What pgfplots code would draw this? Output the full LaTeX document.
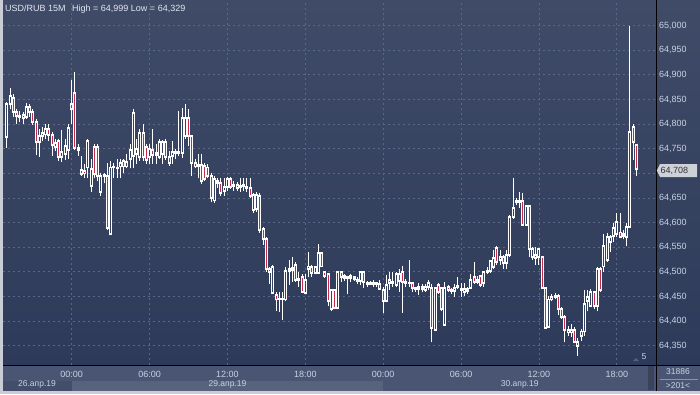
\documentclass[border=0pt]{standalone}
\usepackage{pgfplots}
\pgfplotsset{compat=1.18}
\usepackage{pgfplotstable}
\usepackage{fontspec}
\setmainfont{Liberation Sans}
\definecolor{frame}{HTML}{C8CDD6}
\definecolor{bgtop}{HTML}{3F4B67}
\definecolor{bgbot}{HTML}{2D3A59}
\definecolor{gridc}{HTML}{5A6787}
\definecolor{candred}{HTML}{C42B4A}
\definecolor{hollow}{HTML}{35425F}
\definecolor{labc}{HTML}{C8D2E4}
\definecolor{titlec}{HTML}{E2E7F0}
\definecolor{rowA}{HTML}{4A5573}
\definecolor{rowB}{HTML}{57627D}
\definecolor{rowC}{HTML}{424E6A}
\definecolor{markc}{HTML}{CDD1D8}
\definecolor{scrollc}{HTML}{3A4359}
\definecolor{sepc}{HTML}{8C95A8}
\definecolor{tric}{HTML}{56617C}

\pgfplotstableread{
i o h l c
-20 64773 64845 64752 64840
-19 64840 64874 64830 64858
-18 64854 64862 64815 64825
-17 64825 64830 64800 64817
-16 64817 64826 64805 64815
-15 64812 64824 64800 64819
-14 64815 64842 64810 64835
-13 64835 64840 64815 64825
-12 64825 64830 64798 64805
-11 64805 64810 64738 64763
-10 64763 64790 64734 64775
-9 64775 64795 64765 64783
-8 64779 64800 64770 64790
-7 64790 64800 64765 64778
-6 64778 64785 64735 64758
-5 64753 64770 64745 64762
-4 64765 64770 64725 64734
-3 64734 64789 64724 64744
-2 64740 64770 64728 64755
-1 64748 64800 64730 64793
0 64840 64890 64800 64830
1 64864 64905 64748 64752
2 64752 64760 64736 64748
3 64706 64735 64695 64698
4 64705 64720 64690 64700
5 64712 64770 64690 64765
6 64675 64730 64663 64708
7 64754 64760 64690 64698
8 64754 64760 64685 64694
9 64663 64700 64655 64694
10 64694 64700 64680 64696
11 64694 64722 64585 64590
12 64576 64725 64574 64712
13 64712 64722 64690 64714
14 64712 64730 64690 64710
15 64714 64730 64690 64722
16 64725 64730 64700 64714
17 64714 64740 64710 64724
18 64730 64760 64710 64748
19 64735 64830 64710 64822
20 64740 64770 64720 64750
21 64733 64790 64725 64783
22 64783 64800 64725 64733
23 64754 64760 64720 64728
24 64733 64760 64720 64750
25 64748 64790 64720 64738
26 64742 64760 64720 64738
27 64734 64770 64730 64763
28 64740 64768 64720 64763
29 64763 64770 64728 64734
30 64734 64745 64715 64722
31 64735 64765 64720 64744
32 64744 64750 64730 64742
33 64742 64826 64735 64744
34 64742 64832 64732 64813
35 64775 64840 64770 64813
36 64813 64830 64755 64775
37 64775 64778 64694 64722
38 64722 64730 64710 64714
39 64718 64740 64690 64714
40 64718 64740 64678 64684
41 64716 64722 64685 64688
42 64712 64720 64690 64694
43 64694 64700 64641 64651
44 64645 64695 64640 64688
45 64684 64690 64670 64681
46 64681 64690 64655 64661
47 64665 64690 64655 64673
48 64673 64692 64665 64688
49 64688 64692 64668 64673
50 64675 64685 64665 64677
51 64677 64682 64665 64671
52 64675 64690 64663 64673
53 64677 64690 64665 64675
54 64673 64690 64663 64671
55 64671 64690 64651 64655
56 64625 64660 64620 64657
57 64627 64662 64622 64657
58 64655 64660 64580 64586
59 64588 64592 64555 64566
60 64566 64570 64500 64505
61 64505 64510 64475 64500
62 64458 64515 64455 64509
63 64454 64460 64420 64444
64 64446 64460 64419 64444
65 64444 64460 64403 64446
66 64444 64510 64440 64501
67 64501 64525 64474 64505
68 64503 64530 64480 64507
69 64515 64520 64480 64484
70 64484 64500 64470 64486
71 64489 64495 64458 64460
72 64458 64495 64455 64484
73 64505 64541 64490 64511
74 64509 64515 64490 64498
75 64498 64513 64495 64509
76 64498 64556 64495 64539
77 64539 64541 64509 64511
78 64499 64502 64488 64491
79 64495 64497 64430 64440
80 64425 64464 64420 64464
81 64464 64466 64424 64426
82 64426 64500 64424 64499
83 64499 64501 64480 64489
84 64491 64495 64482 64487
85 64487 64492 64455 64489
86 64491 64495 64480 64487
87 64485 64491 64482 64489
88 64484 64489 64476 64482
89 64482 64502 64474 64499
90 64499 64502 64468 64480
91 64478 64482 64470 64476
92 64476 64482 64474 64478
93 64476 64484 64470 64478
94 64478 64480 64470 64476
95 64476 64484 64464 64466
96 64464 64470 64417 64440
97 64440 64494 64438 64474
98 64484 64500 64464 64478
99 64480 64500 64470 64478
100 64474 64500 64470 64495
101 64495 64505 64460 64482
102 64499 64511 64417 64480
103 64480 64485 64470 64478
104 64478 64525 64470 64478
105 64478 64480 64460 64468
106 64468 64470 64460 64466
107 64466 64478 64454 64470
108 64470 64475 64460 64466
109 64464 64475 64460 64470
110 64470 64484 64464 64478
111 64468 64476 64357 64387
112 64383 64470 64380 64468
113 64474 64478 64455 64460
114 64468 64470 64420 64424
115 64393 64480 64390 64468
116 64470 64474 64460 64464
117 64464 64468 64455 64462
118 64462 64476 64450 64468
119 64470 64490 64465 64472
120 64464 64478 64450 64466
121 64460 64478 64452 64466
122 64466 64470 64455 64462
123 64468 64495 64466 64484
124 64489 64520 64475 64480
125 64480 64492 64475 64484
126 64491 64494 64470 64474
127 64478 64501 64470 64499
128 64499 64510 64495 64501
129 64501 64525 64498 64523
130 64509 64545 64505 64529
131 64548 64552 64515 64521
132 64525 64545 64515 64531
133 64531 64535 64505 64519
134 64519 64545 64505 64535
135 64535 64616 64530 64612
136 64612 64690 64608 64630
137 64645 64650 64635 64641
138 64641 64662 64630 64645
139 64643 64660 64595 64596
140 64596 64636 64594 64633
141 64633 64636 64531 64546
142 64531 64550 64525 64546
143 64535 64550 64515 64529
144 64531 64547 64515 64546
145 64531 64532 64466 64468
146 64468 64470 64384 64387
147 64389 64452 64389 64444
148 64444 64456 64440 64450
149 64450 64458 64445 64452
150 64452 64456 64412 64424
151 64424 64428 64405 64409
152 64409 64412 64357 64383
153 64383 64390 64370 64377
154 64377 64395 64368 64383
155 64383 64388 64356 64357
156 64357 64365 64329 64349
157 64369 64385 64360 64379
158 64379 64464 64370 64434
159 64440 64464 64420 64450
160 64430 64465 64428 64460
161 64460 64462 64425 64430
162 64430 64510 64420 64505
163 64505 64510 64460 64464
164 64511 64576 64500 64552
165 64525 64580 64520 64570
166 64560 64575 64540 64570
167 64572 64600 64560 64590
168 64576 64620 64570 64602
169 64580 64620 64570 64570
170 64572 64585 64566 64576
171 64570 64600 64552 64592
172 64592 64999 64590 64785
173 64795 64801 64728 64763
174 64758 64760 64694 64708
}\candles

\begin{document}
\begin{tikzpicture}[x=1pt,y=1pt]
\useasboundingbox (0,0) rectangle (700,394);
% frame and backgrounds
\fill[frame] (0,0) rectangle (700,394);
\shade[top color=bgtop, bottom color=bgbot] (3,29) rectangle (700,393);
\fill[rowA] (3,3) rectangle (700,29);
\fill[rowC] (3,3) rectangle (71.7,13);
\fill[rowB] (71.7,3) rectangle (383.3,13);
\fill[scrollc] (648,4) rectangle (654,28);

\begin{axis}[
  at={(3pt,29pt)}, anchor=south west,
  scale only axis, width=653pt, height=364pt,
  xmin=-21.17, xmax=180.06, ymin=64311, ymax=65050,
  scaled y ticks=false, scaled x ticks=false,
  axis line style={draw=none},
  major tick length=0pt,
  xtick={0,24,48,72,96,120,144,168},
  xticklabels={00:00,06:00,12:00,18:00,00:00,06:00,12:00,18:00},
  ytick={64350,64400,64450,64500,64550,64600,64650,64700,64750,64800,64850,64900,64950,65000},
  yticklabels={{64,350},{64,400},{64,450},{64,500},{64,550},{64,600},{64,650},{},{64,750},{64,800},{64,850},{64,900},{64,950},{65,000}},
  yticklabel pos=right,
  tick label style={font=\fontsize{9}{10}\selectfont, text=labc},
  yticklabel style={anchor=west, inner sep=0pt, xshift=3pt},
  xticklabel style={anchor=center, inner sep=0pt, yshift=-9pt},
  grid=major,
  major grid style={draw=gridc, line width=0.9pt, dash pattern=on 2pt off 3pt},
  clip=true,
]
% wicks
\addplot[draw=none, mark=none, forget plot,
  error bars/.cd, y dir=plus, y explicit, error mark=none,
  error bar style={draw=white, solid, line width=1pt}]
  table[x=i, y=l, y error plus expr={\thisrow{h}-\thisrow{l}}] {\candles};
% body outline
\addplot[draw=none, mark=none, forget plot,
  error bars/.cd, y dir=plus, y explicit, error mark=none,
  error bar style={draw=white, solid, line width=3pt}]
  table[x=i, y expr={min(\thisrow{o},\thisrow{c})-2}, y error plus expr={abs(\thisrow{c}-\thisrow{o})+4}] {\candles};
% bearish fill
\addplot[draw=none, mark=none, forget plot,
  error bars/.cd, y dir=plus, y explicit, error mark=none,
  error bar style={draw=candred, solid, line width=1pt}]
  table[x=i, y expr={\thisrow{c}+2}, y error plus expr={max(\thisrow{o}-\thisrow{c}-4,0)}] {\candles};
% bullish hollow
\addplot[draw=none, mark=none, forget plot,
  error bars/.cd, y dir=plus, y explicit, error mark=none,
  error bar style={draw=hollow, solid, line width=1pt}]
  table[x=i, y expr={\thisrow{o}+2}, y error plus expr={max(\thisrow{c}-\thisrow{o}-4,0)}] {\candles};
\end{axis}

% separators
\draw[black, line width=1pt] (3,29) -- (700,29);
\draw[black, line width=1pt] (656.5,3) -- (656.5,394);
\draw[sepc, line width=0.8pt] (660,15) -- (698,15);

% title
\node[anchor=west, inner sep=0pt, text=titlec, font=\fontsize{9}{10}\selectfont] at (5,385)
  {USD/RUB 15M\hspace{4pt} High = 64,999 Low = 64,329};

% dates
\begin{scope}[every node/.style={inner sep=0pt, text=labc, font=\fontsize{8.5}{10}\selectfont}]
\node at (37,10) {26.апр.19};
\node at (227.5,10) {29.апр.19};
\node at (519.7,10) {30.апр.19};
\node at (678,22) {31886};
\node at (678,8.5) {>201<};
\node at (644,37) {5};
\end{scope}
\fill[tric] (633,33) -- (639,33) -- (636,36) -- cycle;

% current price marker
\fill[markc] (656.8,223.5) -- (660,230) -- (697,230) -- (697,217) -- (660,217) -- cycle;
\node[anchor=west, inner sep=0pt, text=black!80, font=\fontsize{9}{10}\selectfont] at (660.5,223.5) {64,708};
\end{tikzpicture}
\end{document}
